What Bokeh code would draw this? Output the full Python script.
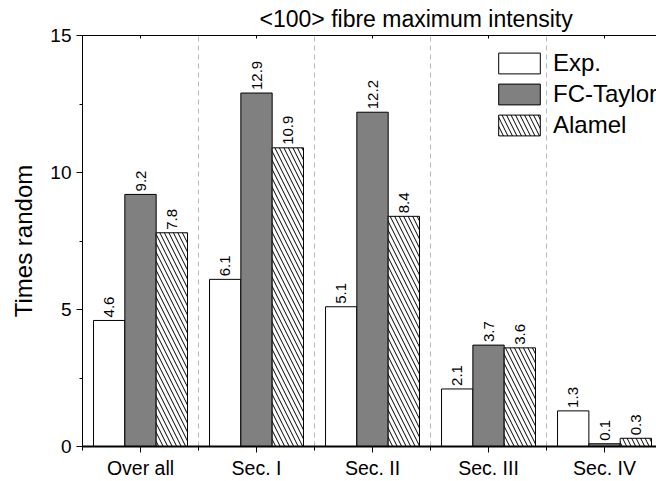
from bokeh.plotting import figure
from bokeh.models import (ColumnDataSource, FixedTicker, LinearAxis, Range1d,
                          Legend, LegendItem)
from bokeh.core.properties import value
from bokeh.embed import file_html
from bokeh.resources import INLINE
import math

# Data
categories = ["Over all", "Sec. I", "Sec. II", "Sec. III", "Sec. IV"]
exp_vals = [4.6, 6.1, 5.1, 2.1, 1.3]
fc_taylor_vals = [9.2, 12.9, 12.2, 3.7, 0.1]
alamel_vals = [7.8, 10.9, 8.4, 3.6, 0.3]
series_names = ["Exp.", "FC-Taylor", "Alamel"]

FONT = "Liberation Sans"
centers = [i + 0.5 for i in range(len(categories))]
bar_w = 0.27
offsets = [-bar_w, 0.0, bar_w]

p = figure(width=656, height=481, output_backend="svg", toolbar_location=None,
           x_range=Range1d(0, 4.948), y_range=Range1d(0, 15),
           min_border_left=82, min_border_right=0, min_border_top=0,
           min_border_bottom=35, outline_line_color=None,
           background_fill_color="white", border_fill_color="white")

# title above the frame
p.title.text = "<100> fibre maximum intensity"
p.title.align = "left"
p.title.offset = 177
p.title.text_font = FONT
p.title.text_font_size = "23px"
p.title.text_font_style = "normal"
p.title.text_color = "black"
p.title.standoff = 7

# axes
p.xaxis.ticker = FixedTicker(ticks=centers, minor_ticks=[0, 1, 2, 3, 4, 5])
p.xaxis.major_label_overrides = {c: lab for c, lab in zip(centers, categories)}
p.xaxis.major_label_text_font = FONT
p.xaxis.major_label_text_font_size = "19.5px"
p.xaxis.major_label_text_color = "black"
p.xaxis.major_tick_in = 0
p.xaxis.major_tick_out = 6
p.xaxis.minor_tick_in = 0
p.xaxis.minor_tick_out = 4
p.xaxis.axis_line_width = 2
p.xaxis.major_label_standoff = 4

p.yaxis.ticker = FixedTicker(ticks=[0, 5, 10, 15], minor_ticks=[2.5, 7.5, 12.5])
p.yaxis.major_label_text_font = FONT
p.yaxis.major_label_text_font_size = "19px"
p.yaxis.major_label_text_color = "black"
p.yaxis.major_tick_in = 0
p.yaxis.major_tick_out = 6
p.yaxis.minor_tick_in = 0
p.yaxis.minor_tick_out = 3
p.yaxis.major_label_standoff = 5
p.yaxis.axis_label = "Times random"
p.yaxis.axis_label_text_font = FONT
p.yaxis.axis_label_text_font_size = "24px"
p.yaxis.axis_label_text_font_style = "normal"
p.yaxis.axis_label_text_color = "black"
p.yaxis.axis_label_standoff = 10

# top frame line with inward ticks at group centres
top_axis = LinearAxis(ticker=FixedTicker(ticks=centers, minor_ticks=[]),
                      major_label_overrides={c: "" for c in centers},
                      major_tick_in=3, major_tick_out=0,
                      minor_tick_in=0, minor_tick_out=0,
                      major_label_standoff=0)
p.add_layout(top_axis, "above")

# dashed separators between groups
p.ygrid.grid_line_color = None
p.xgrid.ticker = FixedTicker(ticks=[1, 2, 3, 4])
p.xgrid.grid_line_color = "#b8b8b8"
p.xgrid.grid_line_dash = "5 4"
p.xgrid.grid_line_width = 1

styles = [
    dict(fill_color="white", hatch_pattern=None),
    dict(fill_color="#808080", hatch_pattern=None),
    dict(fill_color="white", hatch_pattern="\\"),
]
renderers = []
for vals, off, st in zip([exp_vals, fc_taylor_vals, alamel_vals], offsets, styles):
    src = ColumnDataSource(dict(x=[c + off for c in centers], top=vals,
                                label=[f"{v:.1f}" for v in vals]))
    kw = dict(fill_color=st["fill_color"], line_color="black", line_width=1)
    if st["hatch_pattern"]:
        kw.update(hatch_pattern=st["hatch_pattern"], hatch_color="black",
                  hatch_scale=9, hatch_weight=1)
    r = p.vbar(x="x", top="top", width=bar_w, bottom=0, source=src, **kw)
    renderers.append(r)
    p.text(x="x", y="top", text="label", source=src, angle=math.pi / 2,
           text_align="left", text_baseline="middle", y_offset=-3,
           text_font=value(FONT), text_font_size="15px", text_color="black")

legend = Legend(items=[LegendItem(label=n, renderers=[r])
                       for n, r in zip(series_names, renderers)],
                location=(411, 307), border_line_color=None,
                background_fill_alpha=0, padding=0, margin=0, spacing=3,
                glyph_width=52, glyph_height=26, label_standoff=8,
                label_text_font=FONT, label_text_font_size="24px",
                label_text_color="black", label_height=26)
p.add_layout(legend)

open("out.html", "w").write(file_html(p, INLINE))
